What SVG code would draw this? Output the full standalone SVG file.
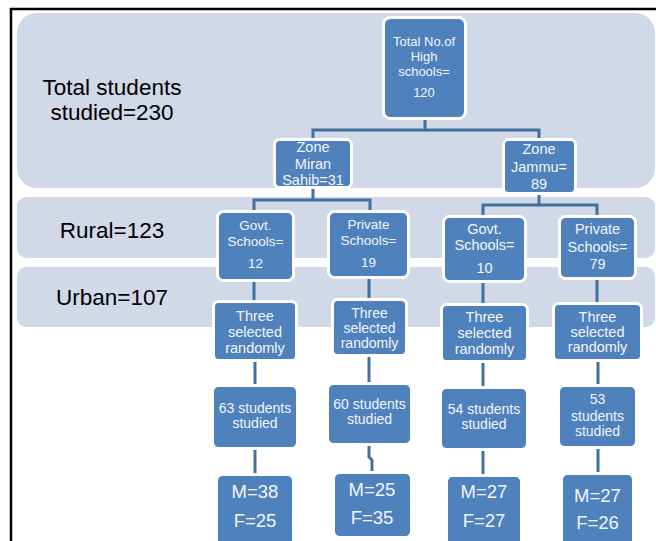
<svg xmlns="http://www.w3.org/2000/svg" width="656" height="541" viewBox="0 0 656 541">
<style>
.band{fill:#D1D8E7}
.lbl{font-family:"Liberation Sans",Arial,sans-serif;font-size:22.5px;fill:#000;text-anchor:middle}
.node rect{fill:#4F81BD;stroke:#FFFFFF;stroke-width:3}
.node text{font-family:"Liberation Sans",Arial,sans-serif;fill:#F2F5FB;text-anchor:middle}
.s13{font-size:13px}
.s135{font-size:13.5px}
.s14{font-size:14px}
.s145{font-size:14.5px}
.s18{font-size:18.5px}
.conn path{fill:none;stroke:#41709F;stroke-width:3}
</style>
<rect width="656" height="541" fill="#FFFFFF"/>
<path d="M11,541 V9 H656" fill="none" stroke="#000" stroke-width="2.5"/>
<g id="bands">
<rect class="band" x="17" y="13" width="638" height="175" rx="20"/>
<rect class="band" x="17" y="197" width="638" height="61" rx="9"/>
<rect class="band" x="17" y="267" width="638" height="60" rx="9"/>
<text class="lbl" x="112" y="95">Total students</text>
<text class="lbl" x="112" y="120">studied=230</text>
<text class="lbl" x="112" y="238">Rural=123</text>
<text class="lbl" x="112" y="305">Urban=107</text>
</g>
<g class="conn" id="connectors">
<path d="M425,120 V130 M313,139 V130 H539 V139"/>
<path d="M313,188 V200 M254,211 V200 H370 V211"/>
<path d="M539,195 V205 M483,216 V205 H597 V216"/>
<path d="M254,282 V301 M369,279 V299 M483,283 V304 M597,280 V303"/>
<path d="M255,362 V385 M369,357 V383 M483,363 V387 M598,362 V385"/>
<path d="M255,450 V474 M369,446 V457 L372,460 V472 M483,451 V475 M598,449 V473"/>
</g>
<g class="node" id="n-total"><rect x="383.5" y="17.5" width="82" height="101" rx="7"/>
<text class="s13" x="424" y="46">Total No.of</text><text class="s13" x="424" y="61">High</text><text class="s13" x="424" y="76">schools=</text><text class="s13" x="424" y="97">120</text></g>
<g class="node" id="n-miran"><rect x="274.5" y="139.5" width="77" height="48" rx="5"/>
<text class="s145" x="313" y="152">Zone</text><text class="s145" x="313" y="169">Miran</text><text class="s145" x="313" y="185">Sahib=31</text></g>
<g class="node" id="n-jammu"><rect x="503.5" y="139.5" width="72" height="54" rx="5"/>
<text class="s145" x="539" y="154">Zone</text><text class="s145" x="539" y="172">Jammu=</text><text class="s145" x="539" y="189">89</text></g>
<g class="node" id="n-govt12"><rect x="217.5" y="211.5" width="76" height="69" rx="6"/>
<text class="s135" x="255.5" y="230">Govt.</text><text class="s135" x="255.5" y="246">Schools=</text><text class="s135" x="255.5" y="268">12</text></g>
<g class="node" id="n-priv19"><rect x="328.5" y="211.5" width="80" height="66" rx="6"/>
<text class="s135" x="368.5" y="229">Private</text><text class="s135" x="368.5" y="245">Schools=</text><text class="s135" x="368.5" y="267">19</text></g>
<g class="node" id="n-govt10"><rect x="443.5" y="216.5" width="82" height="65" rx="6"/>
<text class="s145" x="484.5" y="234">Govt.</text><text class="s145" x="484.5" y="250">Schools=</text><text class="s145" x="484.5" y="273">10</text></g>
<g class="node" id="n-priv79"><rect x="559.5" y="216.5" width="76" height="62" rx="6"/>
<text class="s145" x="597.5" y="234">Private</text><text class="s145" x="597.5" y="252">Schools=</text><text class="s145" x="597.5" y="269">79</text></g>
<g class="node" id="n-three1"><rect x="213.5" y="301.5" width="83" height="59" rx="5"/>
<text class="s145" x="255" y="321">Three</text><text class="s145" x="255" y="337">selected</text><text class="s145" x="255" y="353">randomly</text></g>
<g class="node" id="n-three2"><rect x="332.5" y="299.5" width="74" height="56" rx="5"/>
<text class="s14" x="369.5" y="318">Three</text><text class="s14" x="369.5" y="333">selected</text><text class="s14" x="369.5" y="348">randomly</text></g>
<g class="node" id="n-three3"><rect x="441.5" y="304.5" width="86" height="57" rx="5"/>
<text class="s145" x="484.5" y="322">Three</text><text class="s145" x="484.5" y="338">selected</text><text class="s145" x="484.5" y="354">randomly</text></g>
<g class="node" id="n-three4"><rect x="553.5" y="303.5" width="88" height="57" rx="5"/>
<text class="s145" x="597.5" y="322">Three</text><text class="s145" x="597.5" y="337">selected</text><text class="s145" x="597.5" y="352">randomly</text></g>
<g class="node" id="n-stud1"><rect x="212.5" y="385.5" width="85" height="63" rx="6"/>
<text class="s14" x="255" y="413">63 students</text><text class="s14" x="255" y="428">studied</text></g>
<g class="node" id="n-stud2"><rect x="327.5" y="383.5" width="84" height="61" rx="6"/>
<text class="s14" x="369.5" y="409">60 students</text><text class="s14" x="369.5" y="424">studied</text></g>
<g class="node" id="n-stud3"><rect x="440.5" y="387.5" width="87" height="62" rx="6"/>
<text class="s14" x="484" y="414">54 students</text><text class="s14" x="484" y="429">studied</text></g>
<g class="node" id="n-stud4"><rect x="558.5" y="385.5" width="78" height="62" rx="6"/>
<text class="s14" x="597.5" y="404">53</text><text class="s14" x="597.5" y="421">students</text><text class="s14" x="597.5" y="436">studied</text></g>
<g class="node" id="n-mf1"><rect x="216.5" y="474.5" width="77" height="75" rx="6"/>
<text class="s18" x="255" y="498">M=38</text><text class="s18" x="255" y="527">F=25</text></g>
<g class="node" id="n-mf2"><rect x="333.5" y="472.5" width="78" height="65" rx="6"/>
<text class="s18" x="372" y="496">M=25</text><text class="s18" x="372" y="524">F=35</text></g>
<g class="node" id="n-mf3"><rect x="446.5" y="475.5" width="75" height="75" rx="6"/>
<text class="s18" x="484" y="498">M=27</text><text class="s18" x="484" y="527">F=27</text></g>
<g class="node" id="n-mf4"><rect x="561.5" y="473.5" width="72" height="75" rx="6"/>
<text class="s18" x="597.5" y="502">M=27</text><text class="s18" x="597.5" y="529">F=26</text></g>
</svg>
